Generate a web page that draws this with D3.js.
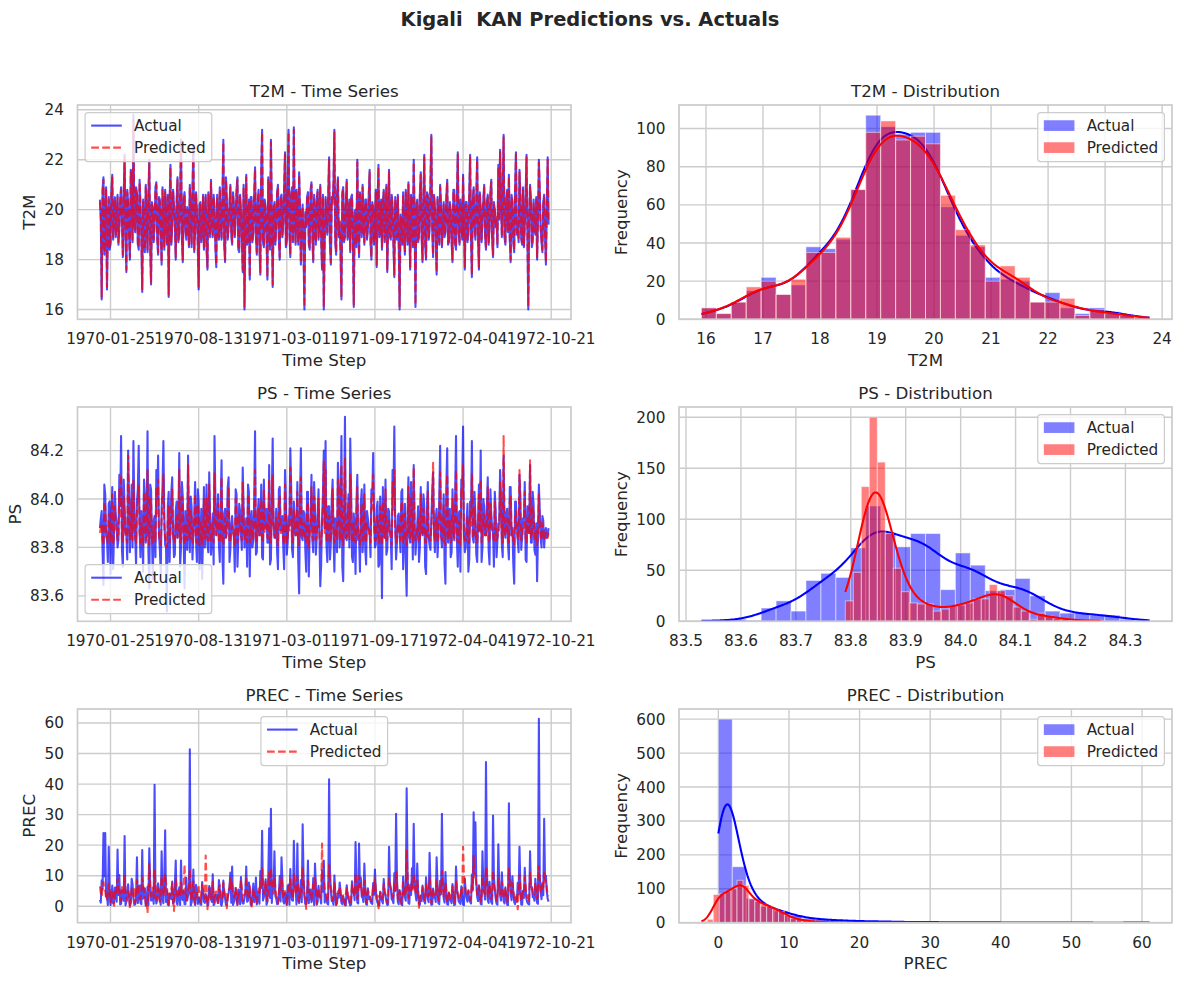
<!DOCTYPE html>
<html>
<head>
<meta charset="utf-8">
<script src="https://cdn.jsdelivr.net/npm/d3@7"></script>
<style>
  body { margin: 0; background: #ffffff; }
  text { font-family: "DejaVu Sans", sans-serif; fill: #262626; }
</style>
</head>
<body>
<svg id="chart" width="1183" height="982"></svg>
<script>
// ------------------------------------------------------------------ DATA
// Daily series are stored as two arrays each: values on days 0,4,8,... and values on days 2,6,10,...
const seriesStart = "1970-01-01";
const stepDays = 2;
const xTickLabels = ["1970-01-25", "1970-08-13", "1971-03-01", "1971-09-17", "1972-04-04", "1972-10-21"];

const t2mActual = [
20.4,16.4,21.3,19.0,16.8,20.5,18.6,21.4,19.8,18.9,
20.6,19.2,20.9,18.1,22.2,17.5,20.3,18.0,21.4,23.8,
19.1,20.7,18.4,20.2,16.7,19.6,21.0,18.3,22.0,17.0,
20.1,19.4,21.1,18.2,20.4,17.8,19.9,20.8,18.6,16.5,
21.8,19.3,20.2,18.0,21.3,19.0,22.8,17.9,20.7,18.8,
19.6,21.0,18.5,22.6,19.2,20.0,16.8,20.3,19.1,18.4,
20.6,17.6,19.8,21.2,18.9,20.1,17.7,19.5,20.9,18.8,
22.8,17.9,20.4,19.3,21.0,18.6,20.2,19.7,21.3,18.3,
20.0,17.5,16.0,21.4,19.1,17.2,20.5,19.0,21.7,18.2,
20.8,17.4,23.2,18.5,20.1,17.2,19.6,22.8,16.9,20.3,
19.2,21.0,18.0,20.6,19.4,22.3,18.7,23.2,18.1,20.9,
23.3,18.6,19.8,21.5,17.8,20.2,16.0,19.3,20.7,18.4,
21.1,17.9,19.7,20.4,18.8,21.0,17.6,16.0,20.5,19.0,
22.1,17.8,20.3,23.2,18.2,21.3,19.5,16.4,20.9,18.9,
21.2,19.1,18.3,20.6,16.1,20.0,22.0,18.1,19.7,21.0,
18.6,20.4,19.2,21.6,18.0,20.1,19.4,17.7,21.8,19.0,
18.4,20.8,19.5,17.5,21.6,18.8,20.2,17.3,19.9,20.6,
16.0,19.3,20.7,18.2,19.8,21.1,17.6,20.0,22.0,16.1,
20.4,18.9,21.5,17.9,22.2,18.0,20.6,19.2,23.0,18.1,
20.2,17.4,19.6,21.0,18.5,20.3,19.1,21.2,18.7,20.0,
17.9,20.8,18.4,22.3,18.6,19.7,21.4,17.6,20.3,19.0,
22.2,17.3,20.9,18.8,22.1,17.6,20.1,19.5,21.0,18.4,
20.6,19.2,21.2,18.1,20.0,19.6,21.8,22.4,18.9,23.0,
18.6,20.8,21.4,17.9,20.3,18.3,22.3,19.4,21.6,18.8,
20.9,19.3,22.2,16.0,21.0,18.5,20.4,19.0,18.0,22.0,
19.2,18.3,20.6,17.8,22.1];
const t2mActualMid = [
19.6,20.8,18.2,20.9,19.3,18.4,20.7,18.8,20.5,19.7,
18.6,20.4,19.5,20.6,18.9,20.8,19.0,21.6,18.7,19.5,
20.9,18.6,21.2,18.9,20.4,18.3,19.8,20.6,18.5,20.3,
18.7,20.9,18.8,20.5,19.1,20.9,18.4,19.7,20.6,20.2,
18.6,20.8,19.4,20.3,18.7,20.6,18.8,20.4,19.2,20.1,
18.5,19.9,20.8,18.3,20.7,18.6,20.2,18.7,20.6,19.8,
18.4,20.7,18.9,19.5,20.6,18.5,20.6,18.8,19.4,20.5,
18.6,21.3,18.8,20.2,19.0,20.7,18.9,20.8,18.4,20.6,
18.8,21.0,19.3,18.6,20.4,20.5,18.7,20.6,18.9,20.3,
18.5,21.6,18.7,20.4,18.9,21.3,18.4,20.0,19.9,18.6,
20.7,18.8,20.5,18.9,20.9,18.5,21.0,19.1,20.6,18.7,
19.6,20.8,18.6,20.0,19.7,18.4,19.9,20.5,18.6,20.8,
18.9,20.6,18.6,20.8,19.4,18.8,20.6,18.7,19.7,20.6,
18.6,20.5,21.1,18.7,20.6,18.9,18.2,20.7,18.7,20.3,
18.8,20.4,20.5,18.8,19.9,18.5,19.4,20.7,18.9,19.5,
20.4,18.8,20.6,18.7,20.3,18.6,20.8,20.3,18.9,20.4,
20.3,18.7,21.0,19.3,18.9,20.6,18.6,20.5,18.8,18.7,
19.8,18.6,19.0,20.8,18.6,19.4,20.6,18.5,19.7,20.2,
18.7,20.6,18.9,20.4,18.6,20.7,18.8,21.1,19.2,20.6,
18.9,20.5,18.6,20.2,19.4,18.9,20.5,18.6,20.3,18.7,
20.8,18.6,20.5,19.0,20.4,18.8,19.5,20.3,18.7,20.6,
18.9,20.4,19.3,20.5,18.8,20.7,18.7,20.4,18.9,20.3,
18.6,20.7,18.8,20.3,19.3,18.5,19.6,20.5,20.8,18.9,
20.4,19.1,18.8,20.6,18.7,20.8,19.0,18.7,20.6,18.6,
18.5,20.6,18.9,19.6,20.4,18.7,19.3,20.5,19.6,20.8,
18.7,20.3,18.9,20.2,19.4];

const t2mPredicted = [
20.3,16.5,21.2,19.1,16.9,20.4,18.7,21.3,19.7,19.0,
20.5,19.3,20.8,18.2,22.1,17.6,20.2,18.1,21.3,23.6,
19.2,20.6,18.5,20.1,16.8,19.7,20.9,18.4,21.9,17.1,
20.0,19.5,21.0,18.3,20.3,17.9,19.8,20.7,18.7,16.6,
21.7,19.4,20.1,18.1,21.2,19.1,22.7,18.0,20.6,18.9,
19.7,20.9,18.6,22.5,19.3,19.9,16.9,20.2,19.2,18.5,
20.5,17.7,19.7,21.1,19.0,20.0,17.8,19.6,20.8,18.9,
22.7,18.0,20.3,19.4,20.9,18.7,20.1,19.8,21.2,18.4,
19.9,17.6,16.1,21.3,19.2,17.3,20.4,19.1,21.6,18.3,
20.7,17.5,23.1,18.6,20.0,17.3,19.7,22.7,17.0,20.2,
19.3,20.9,18.1,20.5,19.5,22.2,18.8,23.1,18.2,20.8,
23.2,18.7,19.7,21.4,17.9,20.1,16.1,19.4,20.6,18.5,
21.0,18.0,19.6,20.3,18.9,20.9,17.7,16.1,20.4,19.1,
22.0,17.9,20.2,23.1,18.3,21.2,19.6,16.5,20.8,19.0,
21.1,19.2,18.4,20.5,16.2,19.9,21.9,18.2,19.8,20.9,
18.7,20.3,19.3,21.5,18.1,20.0,19.5,17.8,21.7,19.1,
18.5,20.7,19.6,17.6,21.5,18.9,20.1,17.4,19.8,20.5,
16.1,19.4,20.6,18.3,19.7,21.0,17.7,19.9,21.9,16.2,
20.3,19.0,21.4,18.0,22.1,18.1,20.5,19.3,22.9,18.2,
20.1,17.5,19.7,20.9,18.6,20.2,19.2,21.1,18.8,19.9,
18.0,20.7,18.5,22.2,18.7,19.8,21.3,17.7,20.2,19.1,
22.1,17.4,20.8,18.9,22.0,17.7,20.0,19.6,20.9,18.5,
20.5,19.3,21.1,18.2,19.9,19.7,21.7,22.3,19.0,22.9,
18.7,20.7,21.3,18.0,20.2,18.4,22.2,19.5,21.5,18.9,
20.8,19.4,22.1,16.1,20.9,18.6,20.3,19.1,18.1,21.9,
19.3,18.4,20.5,17.9,22.0];
const t2mPredictedMid = [
19.7,20.7,18.3,20.8,19.4,18.5,20.6,18.9,20.4,19.8,
18.7,20.3,19.6,20.5,19.0,20.7,19.1,21.5,18.8,19.6,
20.8,18.7,21.1,19.0,20.3,18.4,19.9,20.5,18.6,20.2,
18.8,20.8,18.9,20.4,19.2,20.8,18.5,19.8,20.5,20.1,
18.7,20.7,19.5,20.2,18.8,20.5,18.9,20.3,19.3,20.0,
18.6,19.8,20.7,18.4,20.6,18.7,20.1,18.8,20.5,19.7,
18.5,20.6,19.0,19.6,20.5,18.6,20.5,18.9,19.5,20.4,
18.7,21.2,18.9,20.1,19.1,20.6,19.0,20.7,18.5,20.5,
18.9,20.9,19.4,18.7,20.3,20.4,18.8,20.5,19.0,20.2,
18.6,21.5,18.8,20.3,19.0,21.2,18.5,19.9,19.8,18.7,
20.6,18.9,20.4,19.0,20.8,18.6,20.9,19.2,20.5,18.8,
19.7,20.7,18.7,19.9,19.6,18.5,19.8,20.4,18.7,20.7,
19.0,20.5,18.7,20.7,19.5,18.9,20.5,18.8,19.6,20.5,
18.7,20.4,21.0,18.8,20.5,19.0,18.3,20.6,18.8,20.2,
18.9,20.3,20.4,18.9,19.8,18.6,19.5,20.6,19.0,19.6,
20.3,18.9,20.5,18.8,20.2,18.7,20.7,20.2,19.0,20.3,
20.2,18.8,20.9,19.4,19.0,20.5,18.7,20.4,18.9,18.8,
19.7,18.7,19.1,20.7,18.7,19.5,20.5,18.6,19.8,20.1,
18.8,20.5,19.0,20.3,18.7,20.6,18.9,21.0,19.3,20.5,
19.0,20.4,18.7,20.1,19.5,19.0,20.4,18.7,20.2,18.8,
20.7,18.7,20.4,19.1,20.3,18.9,19.6,20.2,18.8,20.5,
19.0,20.3,19.4,20.4,18.9,20.6,18.8,20.3,19.0,20.2,
18.7,20.6,18.9,20.2,19.4,18.6,19.7,20.4,20.7,19.0,
20.3,19.2,18.9,20.5,18.8,20.7,19.1,18.8,20.5,18.7,
18.6,20.5,19.0,19.7,20.3,18.8,19.4,20.4,19.7,20.7,
18.8,20.2,19.0,20.1,19.5];

const psActual = [
83.88,83.95,83.645,84.02,83.83,83.98,83.69,84.05,83.86,83.93,
83.80,84.10,84.26,83.72,83.97,83.85,84.20,83.78,84.06,84.24,
83.84,83.99,84.22,83.76,83.90,84.08,83.82,84.28,83.63,84.04,
83.67,83.93,84.12,84.18,83.79,83.96,84.24,83.81,83.535,84.03,
83.87,84.09,83.76,83.95,83.84,84.19,83.80,84.01,83.63,83.92,
84.18,83.78,83.97,83.86,84.07,83.74,83.99,83.83,83.67,84.05,
83.89,83.81,84.11,83.77,83.94,84.26,83.85,84.02,83.74,84.16,
83.65,83.96,83.88,84.09,83.79,83.93,83.84,84.04,83.72,83.98,
83.86,84.13,83.80,83.92,84.06,83.68,83.95,83.83,84.28,83.78,
84.00,83.87,83.76,84.08,83.90,83.82,84.14,83.75,84.25,83.84,
83.96,83.71,84.05,83.88,83.80,84.12,83.77,83.93,84.21,83.79,
83.99,83.85,84.07,83.61,84.21,83.83,83.94,83.70,84.03,83.87,
84.10,83.78,83.95,83.84,84.04,83.64,83.92,84.20,84.24,83.74,
83.97,83.82,84.08,83.70,83.91,84.15,83.80,84.26,83.66,84.34,
83.83,84.02,84.25,83.76,83.94,83.69,84.10,83.85,83.98,83.78,
84.06,83.73,83.92,83.86,84.04,84.19,83.80,83.96,83.72,84.01,
83.59,83.90,84.08,83.79,83.95,83.84,84.12,84.30,83.75,83.93,
83.86,84.03,83.71,83.98,83.60,84.09,83.82,83.94,84.14,83.77,
83.89,83.74,84.05,83.85,83.97,83.69,84.07,83.81,83.92,84.11,
83.78,83.96,83.84,84.22,83.80,84.02,83.65,84.21,83.87,83.76,
84.04,83.83,84.26,83.72,83.95,84.08,84.30,83.78,83.91,83.70,
83.99,84.24,83.82,83.93,83.74,84.06,84.20,83.80,83.97,83.85,
84.09,83.73,83.94,83.86,84.03,83.76,83.90,84.12,83.81,84.18,
83.84,83.96,83.75,84.05,83.88,83.65,83.99,83.83,84.10,83.79,
83.92,84.07,83.74,83.95,84.14,83.82,83.98,83.77,83.66,84.06,
83.84,83.93,83.80,83.88,83.85];
const psActualMid = [
83.92,83.78,84.06,83.85,83.74,83.99,83.88,83.71,84.03,83.90,
83.83,83.97,83.79,84.08,83.86,83.75,84.01,83.92,83.80,83.96,
83.73,84.04,83.87,83.95,83.70,84.02,83.89,83.78,84.06,83.84,
83.91,83.76,84.00,83.85,83.69,84.05,83.93,83.80,83.97,83.74,
84.03,83.86,83.77,83.99,83.90,83.72,84.07,83.84,83.95,83.79,
83.88,84.01,83.75,83.93,83.83,84.04,83.71,83.96,83.87,83.80,
84.06,83.78,83.92,83.85,83.73,84.00,83.89,83.81,83.98,83.76,
83.94,83.84,84.05,83.74,83.90,83.87,83.70,84.02,83.83,83.95,
83.79,83.97,83.86,83.72,84.03,83.91,83.80,83.99,83.77,83.93,
83.85,84.06,83.75,83.88,83.96,83.82,83.73,84.01,83.90,83.84,
83.78,84.04,83.87,83.93,83.71,83.98,83.82,83.89,84.05,83.76,
83.92,83.86,83.74,84.00,83.84,83.95,83.79,84.03,83.68,83.90,
83.83,84.07,83.77,83.94,83.86,83.73,84.02,83.88,83.81,83.97,
83.75,84.00,83.85,83.92,83.78,84.06,83.89,83.72,83.96,83.84,
83.91,83.80,84.03,83.74,83.87,83.98,83.83,83.70,84.04,83.86,
83.79,83.95,83.88,83.76,84.02,83.92,83.81,83.99,83.73,83.89,
84.05,83.84,83.77,83.96,83.87,83.71,84.01,83.90,83.82,83.94,
83.78,84.04,83.86,83.74,83.93,83.85,84.07,83.75,83.91,83.83,
83.97,83.80,83.88,84.02,83.72,83.95,83.84,83.79,84.03,83.87,
83.92,83.76,84.00,83.85,83.90,83.73,84.05,83.82,83.96,83.78,
83.89,84.01,83.83,83.94,83.70,84.06,83.86,83.80,83.98,83.75,
83.93,83.84,84.03,83.77,83.91,83.87,83.74,84.00,83.85,83.96,
83.79,84.04,83.88,83.72,83.95,83.83,83.90,84.02,83.76,83.87,
83.94,83.81,84.05,83.85,83.73,83.99,83.89,83.78,84.01,83.84,
83.92,83.75,83.97,83.86,83.82,84.03,83.79,83.90,83.85,83.95,
83.80,83.91,83.86,83.84,83.88];

const psPredicted = [
83.86,83.90,83.81,83.97,83.84,83.93,83.82,84.02,83.85,83.88,
83.83,84.04,84.10,83.82,83.92,83.84,84.18,83.83,84.00,84.08,
83.84,83.95,84.06,83.82,83.87,84.03,83.83,84.12,83.81,83.98,
83.82,83.89,84.05,84.08,83.83,83.92,84.10,83.84,83.80,83.97,
83.85,84.04,83.82,83.90,83.84,84.12,83.83,83.96,83.81,83.88,
84.14,83.83,83.93,83.85,84.02,83.82,83.95,83.84,83.81,84.00,
83.87,83.83,84.06,83.82,83.90,84.11,83.85,83.98,83.82,84.09,
83.81,83.92,83.86,84.05,83.83,83.89,83.85,84.00,83.82,83.94,
83.85,84.07,83.83,83.88,84.02,83.82,83.91,83.84,84.12,83.83,
83.96,83.85,83.82,84.04,83.87,83.84,84.08,83.82,84.10,83.85,
83.92,83.81,84.01,83.86,83.83,84.06,83.82,83.89,84.13,83.83,
83.95,83.85,84.03,83.81,84.09,83.84,83.90,83.82,83.99,83.86,
84.05,83.83,83.91,83.85,84.00,83.81,83.88,84.16,84.12,83.82,
83.93,83.84,84.04,83.82,83.88,84.08,83.83,84.14,83.81,84.17,
83.84,83.98,84.10,83.82,83.90,83.82,84.05,83.85,83.94,83.83,
84.02,83.82,83.89,83.85,84.00,84.10,83.83,83.92,83.82,83.97,
83.81,83.87,84.04,83.83,83.91,83.84,84.07,84.12,83.82,83.89,
83.85,83.99,83.82,83.94,83.81,84.05,83.84,83.90,84.13,83.83,
83.87,83.82,84.02,83.85,83.93,83.82,84.03,83.84,83.89,84.15,
83.83,83.92,83.85,84.11,83.83,83.98,83.81,84.10,83.86,83.82,
84.00,83.84,84.12,83.82,83.91,84.04,84.14,83.83,83.88,83.82,
83.95,84.10,83.84,83.90,83.82,84.02,84.08,83.83,83.93,83.85,
84.05,83.82,83.90,83.86,83.99,83.83,83.87,84.07,83.84,84.26,
83.85,83.92,83.82,84.01,83.87,83.81,83.95,83.84,84.12,83.83,
83.89,84.03,83.82,83.91,84.16,83.84,83.94,83.83,83.81,84.02,
83.85,83.90,83.83,83.86,83.84];
const psPredictedMid = [
83.88,83.83,83.99,83.85,83.82,83.94,83.86,83.81,83.97,83.87,
83.84,83.92,83.83,84.01,83.85,83.82,83.95,83.88,83.83,83.91,
83.82,83.98,83.86,83.90,83.81,83.96,83.87,83.83,84.00,83.84,
83.88,83.82,83.94,83.85,83.81,83.98,83.89,83.83,83.92,83.82,
83.97,83.85,83.83,83.93,83.87,83.82,84.01,83.84,83.90,83.83,
83.86,83.95,83.82,83.89,83.84,83.98,83.81,83.91,83.86,83.83,
84.00,83.83,83.88,83.85,83.82,83.94,83.87,83.83,83.92,83.82,
83.90,83.84,83.99,83.82,83.87,83.86,83.81,83.96,83.84,83.90,
83.83,83.92,83.85,83.82,83.97,83.88,83.83,83.93,83.82,83.89,
83.85,84.00,83.82,83.86,83.91,83.84,83.82,83.95,83.87,83.84,
83.83,83.98,83.86,83.89,83.81,83.93,83.84,83.87,83.99,83.82,
83.88,83.85,83.82,83.94,83.84,83.90,83.83,83.97,83.80,83.87,
83.84,84.01,83.83,83.90,83.85,83.82,83.96,83.86,83.83,83.92,
83.82,83.94,83.85,83.88,83.83,84.00,83.87,83.82,83.91,83.84,
83.88,83.83,83.97,83.82,83.86,83.93,83.84,83.81,83.98,83.85,
83.83,83.90,83.86,83.82,83.96,83.88,83.83,83.93,83.82,83.87,
83.99,83.84,83.83,83.91,83.86,83.81,83.95,83.87,83.84,83.90,
83.83,83.98,83.85,83.82,83.89,83.84,84.01,83.82,83.88,83.84,
83.92,83.83,83.86,83.96,83.82,83.90,83.84,83.83,83.97,83.86,
83.88,83.82,83.94,83.85,83.87,83.82,83.99,83.84,83.91,83.83,
83.86,83.95,83.84,83.90,83.81,84.00,83.85,83.83,83.93,83.82,
83.89,83.84,83.97,83.83,83.88,83.86,83.82,83.94,83.85,83.91,
83.83,83.98,83.86,83.82,83.90,83.84,83.87,83.96,83.82,83.86,
83.90,83.83,83.99,83.85,83.82,83.93,83.87,83.83,83.95,83.84,
83.88,83.82,83.92,83.85,83.84,83.97,83.83,83.87,83.85,83.90,
83.83,83.88,83.85,83.84,83.86];

const precActual = [
2.1,8.5,24.0,24.0,3.2,19.5,0.4,6.8,1.2,3.5,
18.6,10.2,0.8,4.1,23.0,1.5,7.2,0.3,9.0,2.4,
0.6,16.0,5.3,1.1,18.4,3.8,0.2,6.4,19.0,1.9,
4.6,39.8,0.9,7.5,2.2,18.0,1.0,24.9,5.1,0.3,
3.3,8.1,1.4,15.0,0.5,6.2,15.0,2.0,0.7,9.3,
3.6,51.4,1.2,12.0,0.4,5.5,2.8,0.6,7.9,1.5,
4.0,0.3,6.6,2.3,10.5,0.8,3.9,1.1,5.7,0.2,
8.4,2.6,0.5,4.4,11.0,13.0,1.3,6.0,0.4,3.1,
9.6,0.9,2.7,13.0,1.8,5.2,0.3,7.4,2.1,0.6,
4.8,11.5,24.7,3.0,8.8,1.4,25.5,31.9,6.3,18.0,
2.5,0.8,9.9,16.0,1.6,4.3,0.4,7.1,12.2,2.0,
21.4,5.6,20.5,1.0,8.6,26.8,3.4,0.7,15.0,4.9,
1.3,9.2,14.0,0.5,6.7,2.9,11.8,15.0,3.7,0.9,
41.6,5.0,1.7,10.1,0.4,4.2,7.8,1.1,3.3,0.6,
6.9,2.4,0.3,8.2,4.6,21.0,1.2,20.5,9.4,2.8,
14.0,0.7,5.9,3.1,1.0,7.6,12.0,2.2,0.5,4.7,
1.8,8.9,3.6,0.4,19.5,6.1,2.0,10.8,30.3,1.4,
5.3,0.6,9.7,3.0,38.6,1.1,7.0,12.4,27.0,4.1,
14.0,0.8,3.5,6.8,1.6,9.5,2.3,17.5,0.5,5.8,
3.2,16.0,1.0,8.3,30.3,2.6,11.2,0.7,4.4,1.9,
7.3,0.4,13.0,3.8,1.2,6.5,0.6,9.1,2.7,5.0,
1.5,10.4,30.8,27.5,3.1,6.9,0.8,18.0,4.6,47.2,
2.0,8.0,1.3,29.7,5.4,0.9,20.3,3.6,11.1,1.7,
6.2,0.5,33.7,4.0,9.8,1.4,2.9,7.7,19.5,0.6,
5.1,12.6,2.2,0.8,18.0,6.4,3.3,9.0,1.1,61.4,
4.5,7.2,28.6,10.0,2.4];
const precActualMid = [
1.2,5.6,9.8,3.1,0.4,4.8,2.2,0.9,6.1,1.5,
3.7,0.6,5.2,1.8,0.3,4.4,2.9,1.1,7.3,0.5,
3.2,1.0,6.8,0.7,2.5,5.9,1.3,0.4,8.2,2.0,
0.8,3.6,1.9,5.4,0.5,2.7,9.1,1.4,0.6,4.2,
2.3,0.9,6.5,1.2,3.8,0.4,2.6,5.0,0.7,1.9,
4.5,0.3,3.1,1.6,7.0,0.8,2.4,0.5,4.9,1.1,
2.8,0.6,5.7,1.4,0.4,3.5,2.0,8.6,0.9,1.7,
4.1,0.5,2.9,6.3,1.2,0.4,3.3,1.8,5.5,0.7,
2.2,0.9,4.6,1.5,7.8,0.6,3.0,1.3,9.4,2.5,
0.8,6.0,1.9,4.3,0.5,10.1,2.7,1.1,5.8,3.4,
0.7,4.0,1.6,8.9,0.9,2.4,6.6,0.5,3.9,1.8,
7.2,0.6,2.1,4.7,1.3,9.8,0.8,3.2,1.0,5.5,
2.6,0.4,6.9,1.5,3.6,0.9,4.8,1.2,2.3,0.6,
12.0,1.7,0.5,3.9,1.0,2.8,5.1,0.7,1.9,0.4,
3.4,1.2,0.6,4.5,2.0,8.3,0.9,6.2,3.1,1.4,
5.7,0.5,2.4,1.6,0.8,3.8,5.4,1.1,0.3,2.9,
0.9,4.2,1.5,0.6,7.6,2.3,1.0,4.9,9.5,0.7,
2.6,0.4,5.3,1.8,11.4,0.8,3.7,6.0,8.8,1.9,
4.4,0.5,1.7,3.2,0.9,5.1,1.3,7.4,0.6,2.8,
1.4,6.7,0.7,3.9,9.2,1.2,4.6,0.5,2.1,1.0,
3.5,0.6,5.8,1.6,0.8,3.0,0.4,4.3,1.5,2.4,
0.9,5.2,10.6,8.1,1.7,3.3,0.6,6.4,2.2,12.5,
1.1,4.0,0.8,9.7,2.6,0.5,7.1,1.9,5.0,0.9,
3.1,0.4,11.2,2.0,4.6,0.7,1.6,3.9,6.8,0.5,
2.7,5.5,1.2,0.6,6.3,3.0,1.8,4.4,0.8,10.3,
2.3,3.6,8.7,4.8,1.5];

const precPredicted = [
6.5,3.2,8.0,5.1,2.0,7.4,1.3,4.6,0.2,3.8,
9.0,5.5,1.6,6.8,10.2,2.4,4.9,-0.8,5.7,3.1,
1.0,8.7,4.2,2.6,9.4,5.0,0.8,-2.2,14.0,3.3,
6.1,11.6,2.2,5.8,1.5,9.9,4.0,10.5,6.7,0.6,
3.9,7.5,-1.5,8.9,2.7,5.2,7.8,4.1,13.7,2.0,
5.6,12.0,1.8,8.2,0.9,4.5,6.3,1.2,7.0,3.4,
16.6,-1.0,5.9,2.5,8.1,1.4,4.8,0.5,6.9,2.1,
7.7,3.6,-0.6,5.3,9.2,8.0,2.9,6.0,0.7,4.2,
8.6,1.9,3.7,9.7,2.4,6.5,-0.4,5.4,3.0,1.1,
5.8,7.9,12.4,4.0,8.4,1.7,11.0,12.6,6.2,9.5,
3.5,0.9,7.3,9.8,2.6,5.0,0.3,6.6,8.8,3.2,
10.3,4.7,9.6,1.5,6.2,12.9,3.9,-0.9,8.5,4.4,
2.1,7.1,9.3,0.8,5.6,2.8,20.5,8.7,4.3,1.4,
13.5,5.9,2.0,7.8,0.6,4.9,6.4,1.8,3.6,-0.5,
6.0,2.7,0.4,7.0,4.1,10.8,2.3,9.9,7.5,3.0,
8.3,1.2,5.1,3.4,1.6,6.8,8.9,2.5,-1.2,4.6,
2.4,7.4,3.9,1.0,9.1,5.7,2.9,7.6,11.2,2.2,
5.0,0.8,7.9,3.8,18.5,2.6,6.1,8.0,10.7,4.8,
8.4,-0.5,3.6,6.2,2.0,7.3,3.1,9.4,0.9,5.5,
3.7,8.6,1.8,6.9,11.5,3.3,7.7,1.3,4.9,2.6,
6.6,1.1,8.2,4.0,2.2,5.8,19.5,7.0,3.4,5.3,
2.0,7.6,16.5,10.4,3.9,6.3,1.5,9.8,4.5,12.8,
3.1,7.2,2.3,11.7,5.5,1.7,9.1,4.2,8.0,2.7,
6.0,1.4,12.3,4.8,7.5,2.5,3.6,-1.0,10.2,1.8,
5.3,9.6,3.0,1.5,11.0,6.6,4.1,7.8,2.4,13.2,
5.0,7.9,11.0,8.4,3.6];
const precPredictedMid = [
4.2,6.0,5.5,2.8,3.6,5.9,2.4,3.1,4.8,6.3,
4.0,3.3,6.1,4.5,5.0,1.9,3.7,2.9,4.4,5.6,
3.0,6.5,2.2,4.8,7.0,3.4,1.6,5.2,6.4,4.1,
2.7,7.8,4.4,3.0,5.1,6.2,3.3,7.5,2.5,4.2,
5.5,2.1,4.6,6.0,3.8,3.4,5.3,6.6,4.2,3.6,
7.1,4.0,5.0,2.8,3.6,5.8,2.9,4.4,5.0,2.6,
6.8,3.1,4.4,5.5,2.2,4.7,3.3,5.9,4.0,2.7,
5.2,4.6,3.0,6.1,5.7,4.5,3.8,4.9,3.2,5.6,
6.0,3.5,4.7,5.2,2.6,4.3,3.2,5.8,2.7,4.0,
3.9,6.4,7.7,5.6,4.3,3.4,6.9,8.0,4.1,6.2,
2.8,4.1,5.4,6.6,2.9,4.0,3.5,4.8,5.8,2.6,
6.7,3.9,6.1,4.0,4.6,8.3,2.2,3.3,5.9,3.5,
4.4,5.3,6.6,2.9,4.2,3.5,9.0,5.7,3.1,4.5,
7.9,4.3,3.2,5.4,2.8,4.6,4.1,3.0,2.8,3.9,
4.5,3.8,2.7,5.5,3.2,6.6,3.6,6.4,5.0,4.1,
5.6,3.0,4.3,2.9,3.7,4.9,5.6,3.4,2.4,4.2,
3.8,5.1,3.2,3.0,6.4,4.6,3.5,5.3,7.2,3.6,
4.1,2.8,5.6,3.4,9.5,4.0,4.7,5.4,6.8,3.9,
5.5,2.7,4.0,4.9,3.3,5.4,3.7,6.1,3.1,4.6,
3.9,5.7,3.5,4.8,7.0,3.9,5.2,3.3,4.1,3.8,
4.7,2.9,5.6,3.6,3.1,4.4,9.8,5.0,3.8,4.2,
3.4,5.5,9.6,7.0,4.1,4.8,3.2,6.3,4.0,7.9,
3.6,5.1,3.3,7.2,4.5,3.1,6.0,3.9,5.7,3.4,
4.5,3.1,7.6,4.2,5.5,3.3,3.0,4.1,6.8,2.9,
4.6,6.5,3.6,2.8,7.3,5.0,3.9,5.4,3.6,8.5,
4.4,6.2,7.8,5.8,3.3];

// Histogram bins (start, width) and counts
const t2mActualBinStart = 15.92, t2mActualBinWidth = 0.262;
const t2mActualCounts = [6,3,9,15,22,13,18,38,37,42,68,107,101,97,98,98,59,44,38,22,21,20,9,14,6,3,6,4,2,1];
const t2mPredBinStart = 15.92, t2mPredBinWidth = 0.262;
const t2mPredCounts = [6,3,9,17,20,13,21,35,35,43,68,98,104,94,96,92,65,47,39,20,28,22,9,9,11,2,5,3,2,1];

const psActualBinStart = 83.528, psActualBinWidth = 0.0272;
const psActualCounts = [1,0,2,1,13,20,10,40,47,43,72,113,87,73,86,86,31,67,55,30,31,42,25,10,8,8,6,6,2,1];
const psPredBinStart = 83.79, psPredBinWidth = 0.01456;
const psPredCounts = [20,48,132,200,156,86,52,29,18,17,17,10,12,15,16,18,22,22,36,30,25,14,10,2,8,5,3,2,1,1,0,1];

const precActualBinStart = 0, precActualBinWidth = 1.97;
const precActualCounts = [600,165,72,48,35,22,13,10,7,6,4,4,3,2,2,2,1,1,1,1,1,0,0,1,0,1,0,0,0,0,1];
const precPredBinStart = -2.4, precPredBinWidth = 0.84;
const precPredCounts = [4,10,83,85,93,100,125,110,70,63,55,48,40,33,22,12,10,6,4,3,2,1,1];

// Tick values
const t2mYTicks = [16, 18, 20, 22, 24];
const psYTicks = [83.6, 83.8, 84.0, 84.2];
const precYTicks = [0, 10, 20, 30, 40, 50, 60];
const t2mHistXTicks = [16, 17, 18, 19, 20, 21, 22, 23, 24];
const psHistXTicks = [83.5, 83.6, 83.7, 83.8, 83.9, 84.0, 84.1, 84.2, 84.3];
const precHistXTicks = [0, 10, 20, 30, 40, 50, 60];
const t2mHistYTicks = [0, 20, 40, 60, 80, 100];
const psHistYTicks = [0, 50, 100, 150, 200];
const precHistYTicks = [0, 100, 200, 300, 400, 500, 600];

// ------------------------------------------------------------------ STYLE / LAYOUT
const FT = 15.28, FL = 16.67;
const GRID = "#cccccc";
const LW = 2.08;
const colLeft = [77.5, 571], colRight = [679, 1172];
const rows = [[105, 319.3], [407, 621.3], [709, 922.7]];

const svg = d3.select("#chart");
const defs = svg.append("defs");
let clipN = 0;

svg.append("text").attr("x", 590).attr("y", 25.5).attr("text-anchor", "middle")
  .style("font-size", "19.44px").style("font-weight", "bold").style("white-space", "pre")
  .text("Kigali  KAN Predictions vs. Actuals");

function pad5(ext) { const r = ext[1] - ext[0]; return [ext[0] - 0.05 * r, ext[1] + 0.05 * r]; }
function interleave(even, odd) {
  const out = [];
  for (let i = 0; i < even.length; i++) { out.push(even[i]); if (i < odd.length) out.push(odd[i]); }
  return out;
}

function makePanel(o) {
  const [x0, x1] = o.cols, [y0, y1] = o.rows;
  const g = svg.append("g");
  const xs = o.x, ys = o.y;
  const grid = g.append("g");
  o.xTicks.forEach(t => grid.append("line").attr("x1", xs(t)).attr("x2", xs(t)).attr("y1", y0).attr("y2", y1)
    .attr("stroke", GRID).attr("stroke-width", 1.39));
  o.yTicks.forEach(t => grid.append("line").attr("y1", ys(t)).attr("y2", ys(t)).attr("x1", x0).attr("x2", x1)
    .attr("stroke", GRID).attr("stroke-width", 1.39));
  const id = "clip" + (clipN++);
  defs.append("clipPath").attr("id", id).append("rect").attr("x", x0).attr("y", y0).attr("width", x1 - x0).attr("height", y1 - y0);
  const plot = g.append("g").attr("clip-path", `url(#${id})`);
  o.xTicks.forEach((t, i) => g.append("text").attr("x", xs(t)).attr("y", y1 + 25).attr("text-anchor", "middle")
    .style("font-size", FT + "px").text(o.xLabels ? o.xLabels[i] : o.xFmt(t)));
  let maxW = 0;
  o.yTicks.forEach(t => {
    const tx = g.append("text").attr("x", x0 - 13.5).attr("y", ys(t)).attr("dy", "0.36em").attr("text-anchor", "end")
      .style("font-size", FT + "px").text(o.yFmt(t));
    maxW = Math.max(maxW, tx.node().getComputedTextLength());
  });
  const yl = x0 - 13.5 - maxW - 5.6 - 3.9;
  g.append("text").attr("transform", `translate(${yl},${(y0 + y1) / 2}) rotate(-90)`).attr("text-anchor", "middle")
    .style("font-size", FL + "px").text(o.yLabel);
  g.append("text").attr("x", (x0 + x1) / 2).attr("y", y1 + 46.7).attr("text-anchor", "middle")
    .style("font-size", FL + "px").text(o.xLabel);
  g.append("text").attr("x", (x0 + x1) / 2).attr("y", y0 - 8).attr("text-anchor", "middle")
    .style("font-size", FL + "px").text(o.title);
  return { g, plot, x0, x1, y0, y1,
    frame() { g.append("rect").attr("x", x0).attr("y", y0).attr("width", x1 - x0).attr("height", y1 - y0)
      .attr("fill", "none").attr("stroke", GRID).attr("stroke-width", 1.74); } };
}

function drawLegend(p, pos, items, kind) {
  const g = svg.append("g");
  const tmp = g.append("text").style("font-size", FT + "px").text("Predicted");
  const tw = tmp.node().getComputedTextLength(); tmp.remove();
  const w = 6.1 + 30.6 + 12.2 + tw + 6.1, h = 49;
  let lx, ly;
  if (pos === "ul") { lx = p.x0 + 7.6; ly = p.y0 + 7.6; }
  else if (pos === "ll") { lx = p.x0 + 7.6; ly = p.y1 - 7.6 - h; }
  else if (pos === "uc") { lx = (p.x0 + p.x1) / 2 - w / 2; ly = p.y0 + 7.6; }
  else { lx = p.x1 - 7.6 - w; ly = p.y0 + 7.6; }
  g.append("rect").attr("x", lx).attr("y", ly).attr("width", w).attr("height", h).attr("rx", 3)
    .attr("fill", "#ffffff").attr("fill-opacity", 0.8).attr("stroke", GRID).attr("stroke-width", 1.2);
  items.forEach((it, i) => {
    const cy = ly + 13 + i * 22;
    if (kind === "line") {
      g.append("line").attr("x1", lx + 6.1).attr("x2", lx + 36.7).attr("y1", cy).attr("y2", cy)
        .attr("stroke", it.color).attr("stroke-opacity", 0.7).attr("stroke-width", LW)
        .attr("stroke-dasharray", it.dashed ? "7.7,3.3" : null);
    } else {
      g.append("rect").attr("x", lx + 6.1).attr("y", cy - 5.35).attr("width", 30.6).attr("height", 10.7)
        .attr("fill", it.color).attr("fill-opacity", 0.5);
    }
    g.append("text").attr("x", lx + 48.9).attr("y", cy).attr("dy", "0.36em").style("font-size", FT + "px").text(it.label);
  });
}

// ------------------------------------------------------------------ TIME SERIES
const t0 = Date.parse(seriesStart);
const tickDays = xTickLabels.map(s => (Date.parse(s) - t0) / 864e5);

const tsPanels = [
  { name: "T2M", actual: interleave(t2mActual, t2mActualMid), pred: interleave(t2mPredicted, t2mPredictedMid),
    yTicks: t2mYTicks, yFmt: d3.format("d"), legend: "ul" },
  { name: "PS", actual: interleave(psActual, psActualMid), pred: interleave(psPredicted, psPredictedMid),
    yTicks: psYTicks, yFmt: d3.format(".1f"), legend: "ll" },
  { name: "PREC", actual: interleave(precActual, precActualMid), pred: interleave(precPredicted, precPredictedMid),
    yTicks: precYTicks, yFmt: d3.format("d"), legend: "uc" }
];

tsPanels.forEach((s, r) => {
  const n = Math.max(s.actual.length, s.pred.length);
  const x = d3.scaleLinear().domain(pad5([0, (n - 1) * stepDays])).range(colLeft);
  const y = d3.scaleLinear().domain(pad5(d3.extent(s.actual.concat(s.pred)))).range([rows[r][1], rows[r][0]]);
  const p = makePanel({ cols: colLeft, rows: rows[r], x, y, xTicks: tickDays, xLabels: xTickLabels,
    yTicks: s.yTicks, yFmt: s.yFmt, title: s.name + " - Time Series", xLabel: "Time Step", yLabel: s.name });
  const line = d3.line().x((d, i) => x(i * stepDays)).y(d => y(d));
  p.plot.append("path").datum(s.actual).attr("d", line).attr("fill", "none")
    .attr("stroke", "#0000ff").attr("stroke-opacity", 0.7).attr("stroke-width", LW).attr("stroke-linejoin", "round");
  p.plot.append("path").datum(s.pred).attr("d", line).attr("fill", "none")
    .attr("stroke", "#ff0000").attr("stroke-opacity", 0.7).attr("stroke-width", LW).attr("stroke-dasharray", "7.7,3.3")
    .attr("stroke-linejoin", "round");
  p.frame();
  drawLegend(p, s.legend, [{ label: "Actual", color: "#0000ff" }, { label: "Predicted", color: "#ff0000", dashed: true }], "line");
});

// ------------------------------------------------------------------ HISTOGRAMS + KDE
function erf(v) {
  const sg = Math.sign(v); v = Math.abs(v);
  const t = 1 / (1 + 0.3275911 * v);
  const yy = 1 - (((((1.061405429 * t - 1.453152027) * t) + 1.421413741) * t - 0.284496736) * t + 0.254829592) * t * Math.exp(-v * v);
  return sg * yy;
}
const Phi = z => 0.5 * (1 + erf(z / Math.SQRT2));

function kdeFromHist(start, width, counts) {
  const n = d3.sum(counts);
  const centers = counts.map((c, i) => start + (i + 0.5) * width);
  const mean = d3.sum(counts, (c, i) => c * centers[i]) / n;
  const vr = d3.sum(counts, (c, i) => c * (centers[i] - mean) ** 2) / (n - 1) + width * width / 12;
  const h = Math.sqrt(vr) * Math.pow(n, -0.2);
  const lo = start, hi = start + counts.length * width;
  const pts = [];
  for (let k = 0; k <= 400; k++) {
    const xv = lo + (hi - lo) * k / 400;
    let s = 0;
    counts.forEach((c, i) => {
      if (!c) return;
      const a = start + i * width, b = a + width;
      s += c * (Phi((xv - a) / h) - Phi((xv - b) / h));
    });
    pts.push([xv, s]);
  }
  return pts;
}

const histPanels = [
  { name: "T2M", a: [t2mActualBinStart, t2mActualBinWidth, t2mActualCounts], p: [t2mPredBinStart, t2mPredBinWidth, t2mPredCounts],
    xTicks: t2mHistXTicks, yTicks: t2mHistYTicks, xFmt: d3.format("d") },
  { name: "PS", a: [psActualBinStart, psActualBinWidth, psActualCounts], p: [psPredBinStart, psPredBinWidth, psPredCounts],
    xTicks: psHistXTicks, yTicks: psHistYTicks, xFmt: d3.format(".1f") },
  { name: "PREC", a: [precActualBinStart, precActualBinWidth, precActualCounts], p: [precPredBinStart, precPredBinWidth, precPredCounts],
    xTicks: precHistXTicks, yTicks: precHistYTicks, xFmt: d3.format("d") }
];

histPanels.forEach((s, r) => {
  const lo = Math.min(s.a[0], s.p[0]);
  const hi = Math.max(s.a[0] + s.a[1] * s.a[2].length, s.p[0] + s.p[1] * s.p[2].length);
  const x = d3.scaleLinear().domain(pad5([lo, hi])).range(colRight);
  const ymax = Math.max(d3.max(s.a[2]), d3.max(s.p[2]));
  const y = d3.scaleLinear().domain([0, ymax * 1.05]).range([rows[r][1], rows[r][0]]);
  const p = makePanel({ cols: colRight, rows: rows[r], x, y, xTicks: s.xTicks, xFmt: s.xFmt,
    yTicks: s.yTicks, yFmt: d3.format("d"), title: s.name + " - Distribution", xLabel: s.name, yLabel: "Frequency" });
  const kline = d3.line().x(d => x(d[0])).y(d => y(d[1]));
  [[s.a, "#0000ff"], [s.p, "#ff0000"]].forEach(([hd, col]) => {
    const [st, w, counts] = hd;
    p.plot.append("g").selectAll("rect").data(counts.map((c, i) => ({ c, i })).filter(d => d.c > 0)).join("rect")
      .attr("x", d => x(st + d.i * w)).attr("width", d => x(st + (d.i + 1) * w) - x(st + d.i * w))
      .attr("y", d => y(d.c)).attr("height", d => y(0) - y(d.c))
      .attr("fill", col).attr("fill-opacity", 0.5)
      .attr("stroke", "#ffffff").attr("stroke-opacity", 0.5).attr("stroke-width", 1);
    p.plot.append("path").datum(kdeFromHist(st, w, counts)).attr("d", kline).attr("fill", "none")
      .attr("stroke", col).attr("stroke-width", LW);
  });
  p.frame();
  drawLegend(p, "ur", [{ label: "Actual", color: "#0000ff" }, { label: "Predicted", color: "#ff0000" }], "patch");
});
</script>
</body>
</html>
